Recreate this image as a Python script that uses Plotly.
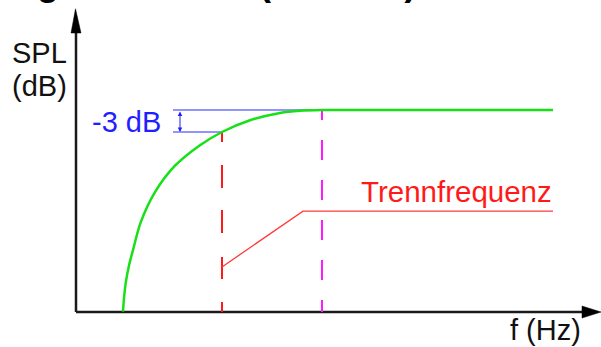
import plotly.graph_objects as go

# ---------------- data ----------------
# green response curve: x = frequency (arbitrary units), y = level in dB
curve_f = [9.4, 9.62, 9.94, 10.6, 11.4, 12.9, 15.8, 19.8, 24.8, 29.2, 34.8, 40.8, 44.8, 49.2, 60.0, 95.4]
curve_db = [-27.5, -25.5, -23.6, -21.2, -19.1, -15.4, -11.2, -7.6, -4.8, -3.0, -1.4, -0.4, -0.1, 0.0, 0.0, 0.0]

axis_floor = -27.55          # level at the horizontal axis
f_cut = 29.2                 # crossover (-3 dB) frequency
db_cut = -3.0
f_flat = 49.2                # start of flat region
db_flat = 0.0

ref_start = 19.4             # left end of the -3 dB bracket lines
bracket_f = 20.8             # bracket arrow position

pointer_f = [29.2, 45.4, 95.4]      # "Trennfrequenz" pointer line
pointer_db = [-21.4, -13.8, -13.8]

labels = {
    "spl": "SPL",
    "db": "(dB)",
    "minus3": "-3 dB",
    "trenn": "Trennfrequenz",
    "fhz": "f (Hz)",
    "title": "Frequenzgang Hochtöner (Tweeter)",
}

# ---------------- styling ----------------
FONT = "Arial, Liberation Sans, Helvetica, sans-serif"
AX = "#1a1a1a"
GREEN = "#18e018"
BLUE_LINE = "#7070ff"
BLUE = "#1f1fff"
RED = "#ff1a1a"
RED_LINE = "#ff3a3a"
MAGENTA = "#ff1aff"

fig = go.Figure()

# axes lines
fig.add_trace(go.Scatter(x=[0, 0], y=[axis_floor, 10.6], mode="lines",
                         line=dict(color=AX, width=2.5), hoverinfo="skip"))
fig.add_trace(go.Scatter(x=[0, 101.4], y=[axis_floor, axis_floor], mode="lines",
                         line=dict(color=AX, width=2.5), hoverinfo="skip"))
# arrow heads
fig.add_trace(go.Scatter(x=[-1.0, 1.0, -0.1, -1.0], y=[10.5, 10.5, 13.8, 10.5], mode="lines",
                         fill="toself", fillcolor="black", line=dict(color="black", width=0.5),
                         hoverinfo="skip"))
fig.add_trace(go.Scatter(x=[101.2, 101.2, 105.0, 101.2],
                         y=[axis_floor + 0.82, axis_floor - 0.82, axis_floor, axis_floor + 0.82],
                         mode="lines", fill="toself", fillcolor="black",
                         line=dict(color="black", width=0.5), hoverinfo="skip"))

# blue -3 dB reference lines
fig.add_trace(go.Scatter(x=[ref_start, f_flat], y=[db_flat, db_flat], mode="lines",
                         line=dict(color=BLUE_LINE, width=1.5), hoverinfo="skip"))
fig.add_trace(go.Scatter(x=[ref_start, f_cut], y=[db_cut, db_cut], mode="lines",
                         line=dict(color=BLUE_LINE, width=1.5), hoverinfo="skip"))

# dashed verticals
fig.add_trace(go.Scatter(x=[f_cut, f_cut], y=[db_cut, axis_floor], mode="lines",
                         line=dict(color=RED, width=2,
                                   dash="10px,23px,23px,22px,23px,24px,22px,23px,10px,10px"),
                         hoverinfo="skip"))
fig.add_trace(go.Scatter(x=[f_flat, f_flat], y=[db_flat, axis_floor], mode="lines",
                         line=dict(color=MAGENTA, width=2,
                                   dash="10px,20px,20px,20px,20px,20px,20px,20px,20px,20px,12px,20px"),
                         hoverinfo="skip"))

# pointer line
fig.add_trace(go.Scatter(x=pointer_f, y=pointer_db, mode="lines",
                         line=dict(color=RED_LINE, width=1.3), hoverinfo="skip"))

# green curve
fig.add_trace(go.Scatter(x=curve_f, y=curve_db, mode="lines",
                         line=dict(color=GREEN, width=2.5, shape="spline", smoothing=0.8),
                         hoverinfo="skip"))

annotations = [
    # bracket double arrow
    dict(x=bracket_f, y=db_cut, ax=bracket_f, ay=db_flat, xref="x", yref="y",
         axref="x", ayref="y", showarrow=True, arrowhead=2, arrowside="end+start",
         arrowsize=0.9, arrowwidth=1, arrowcolor=BLUE, text=""),
    dict(x=10.0, y=-1.64, xref="x", yref="y", text=labels["minus3"], showarrow=False,
         font=dict(family=FONT, size=29, color=BLUE), xanchor="center", yanchor="middle"),
    dict(x=76.1, y=-11.18, xref="x", yref="y", text=labels["trenn"], showarrow=False,
         font=dict(family=FONT, size=29.5, color=RED), xanchor="center", yanchor="middle"),
    dict(x=-7.3, y=7.77, xref="x", yref="y", text=labels["spl"], showarrow=False,
         font=dict(family=FONT, size=29, color="#111"), xanchor="center", yanchor="middle"),
    dict(x=-7.3, y=3.27, xref="x", yref="y", text=labels["db"], showarrow=False,
         font=dict(family=FONT, size=29, color="#111"), xanchor="center", yanchor="middle"),
    dict(x=93.8, y=-30.0, xref="x", yref="y", text=labels["fhz"], showarrow=False,
         font=dict(family=FONT, size=29, color="#111"), xanchor="center", yanchor="middle"),
    dict(x=114 / 601, y=1.0 - 5 / 347, xref="paper", yref="paper", text="<b>" + labels["title"] + "</b>",
         showarrow=False, font=dict(family=FONT, size=36, color="black"),
         xanchor="center", yanchor="bottom"),
]

fig.update_layout(
    width=601, height=347,
    margin=dict(l=0, r=0, t=0, b=0),
    paper_bgcolor="white", plot_bgcolor="white",
    showlegend=False,
    xaxis=dict(range=[-15.2, 105.0], visible=False, fixedrange=True),
    yaxis=dict(range=[-32.318, 15.0], visible=False, fixedrange=True),
    annotations=annotations,
)

fig.write_html("out.html", config={"displayModeBar": False},
               post_script="document.body.style.margin='0';document.body.style.overflow='hidden';")
